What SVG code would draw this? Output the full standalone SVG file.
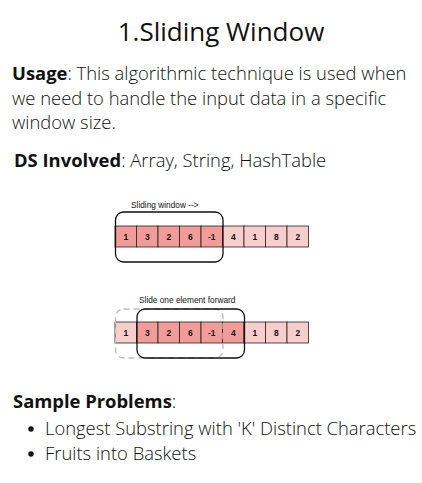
<svg xmlns="http://www.w3.org/2000/svg" width="422" height="483" viewBox="0 0 422 483">
<style>
.t{font-family:"Open Sans","Liberation Sans",sans-serif;fill:#111;font-weight:300}
.b{font-weight:bold}
.d{fill:#F19C99;stroke:#222;stroke-width:0.8}
.l{fill:#F8CECC;stroke:#222;stroke-width:0.8}
.n{font-family:"Liberation Sans",Arial,sans-serif;font-size:8.5px;font-weight:bold;fill:#111;text-anchor:middle}
.cap{font-family:"Liberation Sans",Arial,sans-serif;font-size:8.3px;fill:#111}
.win{fill:none;stroke:#111;stroke-width:1.3}
.dash{fill:none;stroke:#BDBDBD;stroke-width:1.3;stroke-dasharray:6 4}
</style>
<rect width="422" height="483" fill="#fff"/>
<g id="title"><text x="221" y="41" font-family="'Open Sans','Liberation Sans',sans-serif" font-size="26" fill="#111" text-anchor="middle">1.Sliding Window</text></g>
<g id="usage" class="t" font-size="18.4">
<text x="12" y="80"><tspan class="b">Usage</tspan>: This algorithmic technique is used when</text>
<text x="12" y="104.5">we need to handle the input data in a specific</text>
<text x="12" y="129">window size.</text>
</g>
<g id="ds"><text class="t" x="14" y="167" font-size="18.4"><tspan class="b">DS Involved</tspan>: Array, String, HashTable</text></g>
<g id="array1">
<text class="cap" x="131" y="208">Sliding window --&gt;</text>
<rect class="d" x="115" y="226" width="21.5" height="21"/>
<rect class="d" x="136.5" y="226" width="21.5" height="21"/>
<rect class="d" x="158" y="226" width="21.5" height="21"/>
<rect class="d" x="179.5" y="226" width="21.5" height="21"/>
<rect class="d" x="201" y="226" width="21.5" height="21"/>
<rect class="l" x="222.5" y="226" width="21.5" height="21"/>
<rect class="l" x="244" y="226" width="21.5" height="21"/>
<rect class="l" x="265.5" y="226" width="21.5" height="21"/>
<rect class="l" x="287" y="226" width="21.5" height="21"/>
<text class="n" x="125.75" y="239.5">1</text>
<text class="n" x="147.25" y="239.5">3</text>
<text class="n" x="168.75" y="239.5">2</text>
<text class="n" x="190.25" y="239.5">6</text>
<text class="n" x="211.75" y="239.5">-1</text>
<text class="n" x="233.25" y="239.5">4</text>
<text class="n" x="254.75" y="239.5">1</text>
<text class="n" x="276.25" y="239.5">8</text>
<text class="n" x="297.75" y="239.5">2</text>
<rect id="window1" class="win" x="115.5" y="212" width="107.5" height="50" rx="8"/>
</g>
<g id="array2">
<text class="cap" x="139" y="303">Slide one element forward</text>
<rect class="l" x="115" y="322" width="21.5" height="21"/>
<rect class="d" x="136.5" y="322" width="21.5" height="21"/>
<rect class="d" x="158" y="322" width="21.5" height="21"/>
<rect class="d" x="179.5" y="322" width="21.5" height="21"/>
<rect class="d" x="201" y="322" width="21.5" height="21"/>
<rect class="d" x="222.5" y="322" width="21.5" height="21"/>
<rect class="l" x="244" y="322" width="21.5" height="21"/>
<rect class="l" x="265.5" y="322" width="21.5" height="21"/>
<rect class="l" x="287" y="322" width="21.5" height="21"/>
<text class="n" x="125.75" y="335.5">1</text>
<text class="n" x="147.25" y="335.5">3</text>
<text class="n" x="168.75" y="335.5">2</text>
<text class="n" x="190.25" y="335.5">6</text>
<text class="n" x="211.75" y="335.5">-1</text>
<text class="n" x="233.25" y="335.5">4</text>
<text class="n" x="254.75" y="335.5">1</text>
<text class="n" x="276.25" y="335.5">8</text>
<text class="n" x="297.75" y="335.5">2</text>
<rect id="window2old" class="dash" x="115.5" y="309" width="107.5" height="49" rx="8"/>
<rect id="window2" class="win" x="137" y="309" width="107.5" height="49" rx="8"/>
</g>
<g id="samples" class="t" font-size="18.4">
<text x="13" y="408"><tspan class="b">Sample Problems</tspan>:</text>
<circle cx="31" cy="429" r="2.7" fill="#111"/>
<text x="45" y="435">Longest Substring with 'K' Distinct Characters</text>
<circle cx="31" cy="454" r="2.7" fill="#111"/>
<text x="45" y="460">Fruits into Baskets</text>
</g>
</svg>
